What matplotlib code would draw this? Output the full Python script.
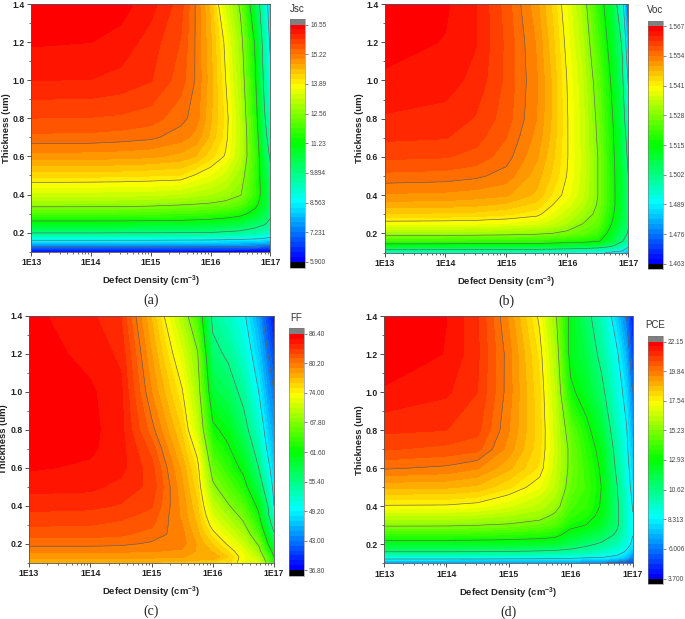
import numpy as np
import matplotlib
matplotlib.use('Agg')
import matplotlib.pyplot as plt
from matplotlib.colors import LinearSegmentedColormap, ListedColormap, BoundaryNorm

plt.rcParams['font.family'] = ['Liberation Sans', 'DejaVu Sans']
plt.rcParams['mathtext.fontset'] = 'custom'
plt.rcParams['mathtext.bf'] = 'Liberation Sans:bold'
plt.rcParams['mathtext.rm'] = 'Liberation Sans'

# log10 of defect density and thickness (um) of the grid
defect_exp = [13, 14, 14.5, 15, 15.5, 15.75, 16, 16.25, 16.5, 16.75, 16.9, 17]
thickness = [0.1, 0.13, 0.16, 0.2, 0.25, 0.3, 0.35, 0.4, 0.5, 0.6, 0.7, 0.8, 1.0, 1.2, 1.4]

# one row per thickness, thinnest first
jsc_rows = [
    [5.95, 5.95, 5.95, 5.95, 5.95, 5.94, 5.93, 5.93, 5.92, 5.91, 5.91, 5.91],
    [7.42, 7.42, 7.41, 7.41, 7.40, 7.40, 7.38, 7.36, 7.33, 7.28, 7.22, 7.17],
    [8.56, 8.56, 8.55, 8.55, 8.53, 8.52, 8.50, 8.47, 8.42, 8.35, 8.25, 8.15],
    [9.95, 9.95, 9.93, 9.93, 9.90, 9.88, 9.87, 9.80, 9.72, 9.55, 9.40, 9.25],
    [11.0, 11.0, 11.0, 10.98, 10.95, 10.9, 10.85, 10.75, 10.6, 10.25, 10.0, 9.7],
    [12.0, 12.0, 11.98, 11.95, 11.9, 11.85, 11.78, 11.65, 11.45, 10.95, 10.5, 10.1],
    [12.78, 12.77, 12.76, 12.72, 12.62, 12.56, 12.5, 12.4, 12.15, 11.45, 10.75, 10.3],
    [13.35, 13.34, 13.32, 13.3, 13.2, 13.1, 13.0, 12.85, 12.6, 11.7, 10.85, 10.25],
    [14.2, 14.18, 14.17, 14.13, 14.1, 13.85, 13.65, 13.35, 12.85, 11.75, 10.7, 10.1],
    [14.9, 14.88, 14.86, 14.82, 14.7, 14.55, 14.2, 13.85, 13.15, 11.8, 10.45, 9.8],
    [15.38, 15.37, 15.33, 15.27, 15.1, 14.92, 14.5, 14.0, 13.2, 11.7, 10.2, 9.5],
    [15.66, 15.65, 15.62, 15.55, 15.3, 15.12, 14.6, 14.05, 13.15, 11.55, 10.0, 9.2],
    [16.11, 16.1, 16.03, 15.9, 15.55, 15.2, 14.65, 13.9, 12.98, 11.3, 9.7, 8.8],
    [16.36, 16.33, 16.25, 16.0, 15.65, 15.2, 14.6, 13.8, 12.8, 11.1, 9.5, 8.4],
    [16.52, 16.5, 16.42, 16.2, 15.77, 15.2, 14.5, 13.35, 12.45, 10.5, 9.2, 8.0],
]

voc_rows = [
    [1.4950, 1.4950, 1.4948, 1.4945, 1.4942, 1.4935, 1.4925, 1.4915, 1.4905, 1.4875, 1.4860, 1.4820],
    [1.5095, 1.5093, 1.5090, 1.5088, 1.5083, 1.5080, 1.5075, 1.5065, 1.5050, 1.5010, 1.4970, 1.4895],
    [1.5205, 1.5203, 1.5200, 1.5198, 1.5195, 1.5190, 1.5180, 1.5172, 1.5160, 1.5085, 1.5025, 1.4985],
    [1.5310, 1.5308, 1.5305, 1.5300, 1.5290, 1.5280, 1.5265, 1.5245, 1.5210, 1.5110, 1.5045, 1.5015],
    [1.5395, 1.5393, 1.5390, 1.5385, 1.5370, 1.5350, 1.5320, 1.5280, 1.5245, 1.5140, 1.5075, 1.5025],
    [1.5450, 1.5448, 1.5445, 1.5435, 1.5420, 1.5385, 1.5350, 1.5310, 1.5265, 1.5155, 1.5090, 1.5035],
    [1.5487, 1.5485, 1.5480, 1.5470, 1.5445, 1.5412, 1.5375, 1.5335, 1.5275, 1.5165, 1.5095, 1.5035],
    [1.5515, 1.5512, 1.5507, 1.5500, 1.5470, 1.5430, 1.5398, 1.5350, 1.5280, 1.5165, 1.5095, 1.5030],
    [1.5555, 1.5552, 1.5545, 1.5530, 1.5485, 1.5450, 1.5408, 1.5358, 1.5280, 1.5165, 1.5090, 1.5020],
    [1.5588, 1.5585, 1.5575, 1.5550, 1.5500, 1.5460, 1.5412, 1.5358, 1.5280, 1.5160, 1.5083, 1.5005],
    [1.5609, 1.5606, 1.5592, 1.5562, 1.5510, 1.5468, 1.5412, 1.5357, 1.5273, 1.5155, 1.5075, 1.4985],
    [1.5624, 1.5619, 1.5603, 1.5572, 1.5518, 1.5472, 1.5412, 1.5355, 1.5268, 1.5148, 1.5065, 1.4950],
    [1.5644, 1.5636, 1.5620, 1.5578, 1.5520, 1.5472, 1.5408, 1.5348, 1.5250, 1.5130, 1.5040, 1.4880],
    [1.5658, 1.5647, 1.5628, 1.5578, 1.5515, 1.5462, 1.5398, 1.5330, 1.5222, 1.5105, 1.5010, 1.4800],
    [1.5665, 1.5652, 1.5628, 1.5573, 1.5503, 1.5450, 1.5385, 1.5310, 1.5195, 1.5080, 1.4930, 1.4720],
]

ff_rows = [
    [77.0, 77.0, 77.0, 77.0, 76.8, 76.5, 76.0, 75.5, 73.0, 72.0, 66.8, 63.0],
    [78.4, 78.4, 78.4, 78.4, 78.2, 77.8, 78.0, 76.0, 73.2, 70.6, 65.5, 61.6],
    [79.4, 79.4, 79.3, 79.2, 79.0, 78.0, 77.0, 75.0, 72.7, 69.0, 63.5, 60.5],
    [80.6, 80.6, 80.5, 80.0, 79.6, 78.0, 76.0, 73.7, 71.2, 67.4, 61.6, 58.8],
    [81.65, 81.6, 81.4, 80.9, 79.5, 77.5, 74.6, 72.2, 69.8, 65.3, 59.7, 56.0],
    [82.4, 82.3, 82.0, 81.4, 79.2, 77.0, 73.2, 70.8, 68.3, 63.4, 57.8, 53.6],
    [83.05, 82.9, 82.6, 81.9, 78.9, 76.6, 72.0, 69.5, 66.9, 62.0, 56.2, 51.0],
    [83.7, 83.6, 83.2, 82.4, 78.8, 76.2, 70.9, 68.1, 65.4, 60.8, 55.4, 49.2],
    [84.7, 84.6, 84.0, 83.0, 78.4, 75.4, 68.4, 65.7, 62.9, 57.8, 52.7, 48.0],
    [85.5, 85.2, 84.7, 82.7, 77.8, 74.7, 66.4, 63.6, 60.8, 55.4, 50.3, 47.0],
    [85.85, 85.55, 84.8, 81.9, 76.8, 73.3, 64.3, 62.0, 59.0, 53.6, 48.5, 46.0],
    [86.1, 85.7, 84.7, 80.7, 75.9, 71.2, 62.3, 60.6, 57.0, 52.0, 47.2, 45.0],
    [86.3, 85.55, 84.6, 79.2, 74.2, 69.4, 59.0, 57.4, 54.3, 49.2, 45.0, 43.0],
    [86.0, 85.0, 84.1, 78.2, 72.2, 68.1, 56.5, 54.8, 51.8, 47.0, 43.0, 40.5],
    [85.7, 84.6, 83.3, 77.0, 69.8, 64.6, 54.5, 52.5, 49.9, 44.9, 40.5, 38.0],
]

pce_rows = [
    [6.6, 6.6, 6.6, 6.58, 6.55, 6.5, 6.4, 6.2, 6.0, 5.5, 5.2, 4.9],
    [8.9, 8.9, 8.85, 8.8, 8.75, 8.7, 8.6, 8.4, 8.3, 7.9, 7.2, 6.2],
    [10.6, 10.6, 10.58, 10.52, 10.4, 10.3, 10.1, 9.9, 9.5, 8.9, 8.1, 7.2],
    [12.3, 12.3, 12.25, 12.2, 12.1, 12.0, 11.5, 10.9, 10.4, 9.7, 8.9, 8.0],
    [13.85, 13.85, 13.8, 13.7, 13.5, 13.3, 12.4, 12.0, 11.4, 10.4, 9.2, 8.35],
    [15.37, 15.35, 15.23, 15.1, 14.7, 14.3, 13.25, 12.9, 12.2, 10.8, 9.3, 8.4],
    [16.4, 16.38, 16.3, 16.0, 15.7, 15.0, 13.8, 13.4, 12.6, 10.85, 9.3, 8.35],
    [17.47, 17.45, 17.3, 16.85, 16.2, 15.7, 14.2, 13.75, 12.8, 10.85, 9.2, 8.25],
    [18.8, 18.75, 18.6, 18.0, 17.2, 16.3, 14.75, 14.0, 12.9, 10.65, 9.0, 7.9],
    [19.9, 19.75, 19.5, 18.8, 17.85, 16.55, 14.95, 13.85, 12.75, 10.3, 8.8, 7.6],
    [20.65, 20.5, 20.35, 19.3, 18.05, 16.6, 14.95, 13.6, 12.5, 10.0, 8.6, 7.2],
    [21.08, 21.0, 20.75, 19.5, 18.1, 16.55, 14.6, 13.3, 12.0, 9.6, 8.4, 6.8],
    [21.72, 21.45, 21.0, 19.65, 18.0, 16.35, 13.2, 12.3, 11.0, 9.0, 7.8, 6.0],
    [22.0, 21.75, 21.08, 19.65, 17.8, 16.0, 12.5, 11.7, 10.2, 8.45, 7.0, 5.0],
    [22.12, 21.77, 21.05, 19.4, 17.4, 15.5, 12.5, 11.1, 9.6, 7.5, 6.0, 4.3],
]

# colour bar numbers as printed, bottom to top
jsc_labels = ['5.900', '7.231', '8.563', '9.894', '11.23', '12.56', '13.89', '15.22', '16.55']
voc_labels = ['1.463', '1.476', '1.489', '1.502', '1.515', '1.528', '1.541', '1.554', '1.567']
ff_labels = ['36.80', '43.00', '49.20', '55.40', '61.60', '67.80', '74.00', '80.20', '86.40']
pce_labels = ['3.700', '6.006', '8.313', '10.62', '12.93', '15.23', '17.54', '19.84', '22.15']

x_ticks = [13, 14, 15, 16, 17]
x_tick_labels = ['1E13', '1E14', '1E15', '1E16', '1E17']
y_ticks = [0.2, 0.4, 0.6, 0.8, 1.0, 1.2, 1.4]

W, H = 685, 619
BANDS_PER_TICK = 6
fig = plt.figure(figsize=(W / 100, H / 100), dpi=100)

rainbow = LinearSegmentedColormap.from_list(
    'origin_rainbow', ['#0000ff', '#00ffff', '#00ff00', '#ffff00', '#ff0000'])


def px_axes(left, top, right, bottom):
    return fig.add_axes([left / W, 1 - bottom / H, (right - left) / W, (bottom - top) / H])


def draw_panel(rows, labels, title, caption, box, cbar_box, title_xy, ylabel_x, xlabel_y, caption_y):
    ax = px_axes(*box)
    cax = px_axes(*cbar_box)
    vmin, vmax = float(labels[0]), float(labels[-1])
    n_bands = BANDS_PER_TICK * (len(labels) - 1)
    levels = np.linspace(vmin, vmax, n_bands + 1)
    cmap = ListedColormap(rainbow(np.linspace(0, 1, n_bands)))
    cmap.set_under('black')
    cmap.set_over('#808080')
    norm = BoundaryNorm(levels, n_bands)

    z = np.array(rows)
    filled = ax.contourf(defect_exp, thickness, z, levels=levels, cmap=cmap, norm=norm, extend='both')
    ax.contour(defect_exp, thickness, z, levels=levels[::BANDS_PER_TICK][1:-1],
               colors='#606060', linewidths=0.45)

    ax.set_xlim(13, 17)
    ax.set_ylim(0.1, 1.4)
    ax.set_xticks(x_ticks)
    ax.set_xticklabels(x_tick_labels, fontweight='bold', fontsize=6.2, color='#222222')
    minor_x = [d + np.log10(m) for d in x_ticks[:-1] for m in range(2, 10)]
    ax.set_xticks(minor_x, minor=True)
    ax.set_yticks(y_ticks)
    ax.set_yticklabels(['%.1f' % t for t in y_ticks], fontweight='bold', fontsize=6.2, color='#222222')
    ax.set_yticks(np.arange(0.1, 1.4, 0.2), minor=True)
    ax.tick_params(which='major', length=3, width=0.6, pad=1.5, color='#333333')
    ax.tick_params(which='minor', length=1.6, width=0.5, color='#333333')
    for spine in ax.spines.values():
        spine.set_linewidth(0.6)
        spine.set_color('#555555')

    cx = (box[0] + box[2]) / 2
    fig.text(cx / W, 1 - xlabel_y / H, 'Defect Density (cm$^{\\mathbf{-3}}$)', ha='center', va='center',
             fontweight='bold', fontsize=6.8, color='#222222')
    fig.text(ylabel_x / W, 1 - (box[1] + box[3]) / 2 / H, 'Thickness (um)', rotation=90, ha='center',
             va='center', fontweight='bold', fontsize=6.8, color='#222222')
    fig.text(cx / W, 1 - caption_y / H, caption, ha='center', va='center', fontsize=10,
             family='Liberation Serif', color='#222222')

    extend_frac = 5.5 / (cbar_box[3] - cbar_box[1] - 11)
    cb = fig.colorbar(filled, cax=cax, extend='both', extendrect=True, extendfrac=extend_frac,
                      spacing='proportional', drawedges=False)
    cb.set_ticks(levels[::BANDS_PER_TICK], labels=labels)
    cb.ax.minorticks_off()
    cb.ax.tick_params(length=2.5, width=0.5, pad=1.2, labelsize=4.7, color='#555555', labelcolor='#444444')
    cb.outline.set_linewidth(0.4)
    cb.outline.set_edgecolor('#777777')
    fig.text(title_xy[0] / W, 1 - title_xy[1] / H, title, ha='center', va='center', fontsize=7, color='#333333')


draw_panel(jsc_rows, jsc_labels, 'Jsc', '(a)', (31.3, 4, 270.3, 251.7), (290, 19, 305, 267.5),
           (297, 9), 7, 281, 300)
draw_panel(voc_rows, voc_labels, 'Voc', '(b)', (384.5, 4, 628.3, 252.5), (648, 20.7, 663, 269.3),
           (655, 10), 359, 282, 301)
draw_panel(ff_rows, ff_labels, 'FF', '(c)', (29, 316, 274, 562.7), (288.7, 328.3, 304, 575.7),
           (296, 318), 4, 592, 611)
draw_panel(pce_rows, pce_labels, 'PCE', '(d)', (384.3, 316, 632.7, 563.3), (648, 336, 663, 584),
           (655, 325), 359, 593, 612)

fig.savefig('out.png', dpi=100)
